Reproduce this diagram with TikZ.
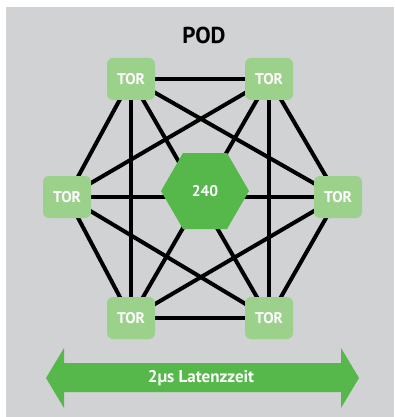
\documentclass[tikz,border=0pt]{standalone}
\usepackage{fontspec}
\setmainfont{PT Sans}
\usetikzlibrary{positioning}
\definecolor{bggray}{HTML}{D1D2D4}
\definecolor{torgreen}{HTML}{9BD18B}
\definecolor{hexgreen}{HTML}{56B84B}
\pgfdeclarelayer{bglayer}
\pgfdeclarelayer{edgelayer}
\pgfsetlayers{bglayer,edgelayer,main}
\tikzset{
  tor/.style={fill=torgreen, rounded corners=6pt, minimum width=48pt, minimum height=42pt,
    text=white, font=\bfseries\fontsize{15.5}{15.5}\selectfont, inner sep=0pt},
  link/.style={line width=4pt, black},
  hexnode/.style={fill=hexgreen, text=white, font=\bfseries\fontsize{15.5}{15.5}\selectfont}
}
\begin{document}
\begin{tikzpicture}[x=1pt,y=-1pt]
\useasboundingbox (0,0) rectangle (394,417);
\begin{pgfonlayer}{bglayer}
\fill[bggray] (6,7) rectangle (394,417);
\end{pgfonlayer}
\node[font=\bfseries\fontsize{23}{23}\selectfont] (pod) at (204,35) {POD};
\node[tor] (tl) at (131,79) {TOR};
\node[tor] (tr) at (269,79) {TOR};
\node[tor] (ml) at (67,197) {TOR};
\node[tor] (mr) at (338,197) {TOR};
\node[tor] (bl) at (131,318) {TOR};
\node[tor] (br) at (269,318) {TOR};
\fill[hexgreen] (161,191) -- (183,153) -- (227,153) -- (249,191) -- (227,229) -- (183,229) -- cycle;
\node[hexnode] (hex) at (205,191) {240};
\begin{pgfonlayer}{edgelayer}
\foreach \a/\b in {tl/tr,tl/ml,tl/mr,tl/bl,tl/br,tr/ml,tr/mr,tr/bl,tr/br,ml/mr,ml/bl,ml/br,mr/bl,mr/br,bl/br}
  \draw[link] (\a.center) -- (\b.center);
\end{pgfonlayer}
\fill[hexgreen] (46,378) -- (64,348) -- (64,363) -- (341,363) -- (341,348) -- (359,378)
  -- (341,408) -- (341,392) -- (64,392) -- (64,408) -- cycle;
\node[text=white, font=\bfseries\fontsize{17}{17}\selectfont] (lat) at (201,378) {2μs Latenzzeit};
\end{tikzpicture}
\end{document}
